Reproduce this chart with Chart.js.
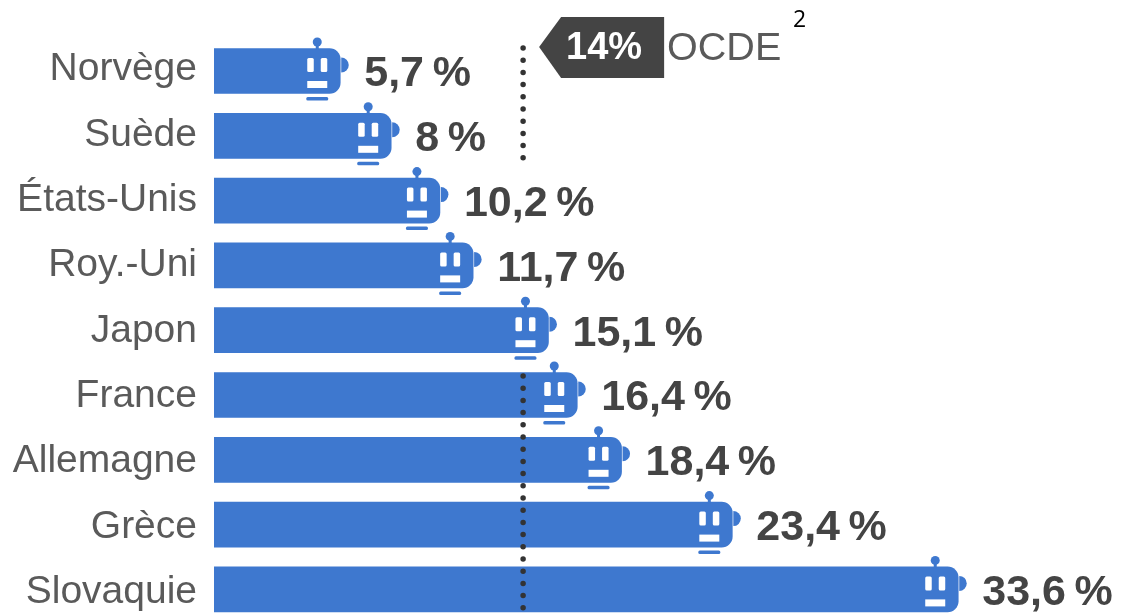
<!DOCTYPE html>
<html lang="fr">
<head>
<meta charset="utf-8">
<title>Robots</title>
<script src="https://cdn.jsdelivr.net/npm/chart.js@4/dist/chart.umd.min.js"></script>
<style>
html,body{margin:0;padding:0;background:#fff;overflow:hidden;width:1122px;height:615px}
#wrap{position:relative;width:1122px;height:615px;overflow:hidden}
#box{position:absolute;left:0;top:0;width:1122px;height:660px}
</style>
</head>
<body>
<div id="wrap"><div id="box"><canvas id="c"></canvas></div></div>
<script>
const categories = ["Norvège","Suède","États-Unis","Roy.-Uni","Japon","France","Allemagne","Grèce","Slovaquie"];
const values = [5.7,8,10.2,11.7,15.1,16.4,18.4,23.4,33.6];
const valueLabels = ["5,7\u2009%","8\u2009%","10,2\u2009%","11,7\u2009%","15,1\u2009%","16,4\u2009%","18,4\u2009%","23,4\u2009%","33,6\u2009%"];
const ocdeValue = 14;
const ocdeTag = "14%";
const ocdeName = "OCDE";
const noteMark = "2";

const BLUE = "#3e78cf";
const DARK = "#444444";
const GREY = "#5a5a5a";

function roundRect(ctx, x, y, w, h, r) {
  ctx.beginPath();
  ctx.roundRect(x, y, w, h, r);
  ctx.fill();
}

const robotPlugin = {
  id: "robots",
  afterDatasetsDraw(chart) {
    const ctx = chart.ctx;
    const x14 = chart.scales.x.getPixelForValue(ocdeValue) - 1;
    ctx.save();
    // dotted average line, upper and lower parts
    ctx.strokeStyle = "#333";
    ctx.lineWidth = 5.5;
    ctx.lineCap = "round";
    ctx.setLineDash([0, 12.2]);
    [[48, 160], [376, 612]].forEach(([a, b]) => {
      ctx.beginPath(); ctx.moveTo(x14, a); ctx.lineTo(x14, b); ctx.stroke();
    });
    ctx.setLineDash([]);

    // bars' robot heads and value labels
    chart.getDatasetMeta(0).data.forEach((bar, i) => {
      const xe = bar.x, yc = bar.y, cx = xe - 23;
      ctx.fillStyle = BLUE;
      // side nub
      ctx.beginPath(); ctx.arc(xe + 1, yc - 6, 7.5, -Math.PI / 2, Math.PI / 2); ctx.fill();
      // antenna
      ctx.fillRect(cx - 1.5, yc - 27, 3, 6);
      ctx.beginPath(); ctx.arc(cx, yc - 29, 4.5, 0, Math.PI * 2); ctx.fill();
      // underline
      roundRect(ctx, cx - 11, yc + 26, 22, 3.5, 1.5);
      // eyes + mouth
      ctx.fillStyle = "#fff";
      roundRect(ctx, cx - 10, yc - 13, 6.5, 14, 1.5);
      roundRect(ctx, cx + 3.5, yc - 13, 6.5, 14, 1.5);
      ctx.fillRect(cx - 10, yc + 10, 20, 7);
      // value
      ctx.fillStyle = DARK;
      ctx.font = "bold 43px 'Liberation Sans', Arial, sans-serif";
      ctx.textAlign = "left";
      ctx.textBaseline = "middle";
      ctx.fillText(valueLabels[i], xe + 24, yc + 3.5);
    });

    // OCDE tag
    const tx = x14 + 16;
    ctx.fillStyle = "#444";
    ctx.beginPath();
    ctx.moveTo(tx, 47);
    ctx.lineTo(tx + 22, 17);
    ctx.lineTo(tx + 125, 17);
    ctx.lineTo(tx + 125, 78);
    ctx.lineTo(tx + 22, 78);
    ctx.closePath();
    ctx.fill();
    ctx.fillStyle = "#fff";
    ctx.font = "bold 38px 'Liberation Sans', Arial, sans-serif";
    ctx.textAlign = "left";
    ctx.textBaseline = "middle";
    ctx.fillText(ocdeTag, tx + 27, 49);
    ctx.fillStyle = GREY;
    ctx.font = "39.5px 'Liberation Sans', Arial, sans-serif";
    ctx.fillText(ocdeName, tx + 128, 49);
    ctx.fillStyle = "#000";
    ctx.font = "23px 'Open Sans', sans-serif";
    ctx.fillText(noteMark, x14 + 270, 20);
    ctx.restore();
  }
};

new Chart(document.getElementById("c"), {
  type: "bar",
  data: {
    labels: categories,
    datasets: [{
      data: values,
      backgroundColor: BLUE,
      barThickness: 45,
      borderRadius: { topRight: 11, bottomRight: 11, topLeft: 0, bottomLeft: 0 },
      borderSkipped: false
    }]
  },
  options: {
    indexAxis: "y",
    responsive: true,
    maintainAspectRatio: false,
    animation: false,
    devicePixelRatio: 1,
    layout: { padding: { top: 38.6, bottom: 38.2, left: 0, right: 22 } },
    plugins: { legend: { display: false }, tooltip: { enabled: false } },
    scales: {
      x: { display: false, min: 0, max: 40 },
      y: {
        grid: { display: false, drawTicks: false },
        border: { display: false },
        ticks: {
          padding: 17,
          color: GREY,
          font: { family: "'Liberation Sans', Arial, sans-serif", size: 39 }
        },
        afterFit(s) { s.width = 214; s.paddingTop = 0; s.paddingBottom = 0; }
      }
    }
  },
  plugins: [robotPlugin, {
    id: "shiftLabels",
    beforeDraw(chart) {
      // the labels' spacing is slightly wider than the bars' in the source
      const s = chart.scales.y;
      if (s._shifted) return;
      const orig = s._computeLabelItems.bind(s);
      s._computeLabelItems = function (area) {
        const items = orig(area);
        items.forEach((it, i) => { it.options.translation[1] += -1.5 + 0.57 * i; });
        return items;
      };
      s._labelItems = null;
      s._shifted = true;
    }
  }]
});
</script>
</body>
</html>
